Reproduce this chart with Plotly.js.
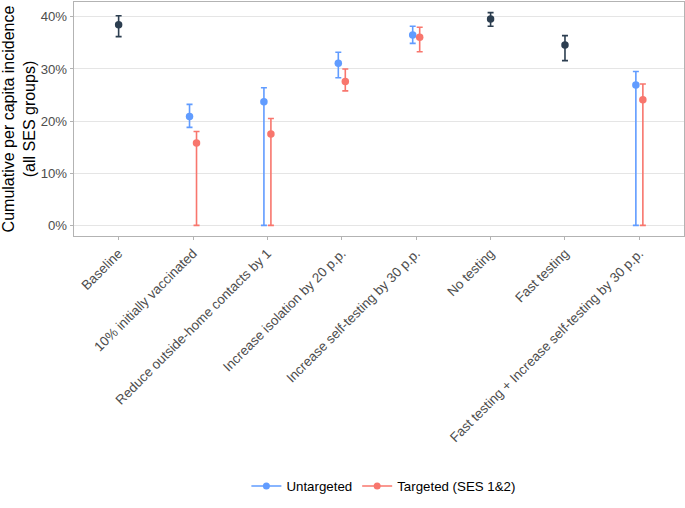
<!DOCTYPE html>
<html>
<head>
<meta charset="utf-8">
<script src="https://cdn.plot.ly/plotly-3.0.1.min.js"></script>
<style>
  html, body { margin: 0; padding: 0; background: #fff; }
  #chart { width: 685px; height: 508px; }
</style>
</head>
<body>
<div id="chart"></div>
<script>
// scenarios on the x axis
let scenarios = [
    "Baseline",
    "10% initially vaccinated",
    "Reduce outside-home contacts by 1",
    "Increase isolation by 20 p.p.",
    "Increase self-testing by 30 p.p.",
    "No testing",
    "Fast testing",
    "Fast testing + Increase self-testing by 30 p.p."
];

// single-value scenarios (no targeting)
let baseIdx = [0, 5, 6];
let baseMid = [38.5, 39.6, 34.6];
let baseLow = [36.2, 38.2, 31.6];
let baseHigh = [40.2, 40.8, 36.4];

// untargeted
let untIdx = [1, 2, 3, 4, 7];
let untMid = [20.9, 23.7, 31.1, 36.5, 26.9];
let untLow = [18.8, 0, 28.3, 34.9, 0];
let untHigh = [23.2, 26.4, 33.2, 38.2, 29.5];

// targeted (SES 1&2)
let tarIdx = [1, 2, 3, 4, 7];
let tarMid = [15.8, 17.5, 27.6, 36.1, 24.1];
let tarLow = [0, 0, 25.8, 33.3, 0];
let tarHigh = [18.0, 20.5, 30.0, 38.0, 27.1];

let dodge = 0.047;

function pointTrace(idx, mid, low, high, shift, color, name) {
    return {
        type: 'scatter',
        mode: 'markers',
        name: name,
        showlegend: false,
        x: idx.map(i => i + shift),
        y: mid,
        marker: {color: color, size: 7.5},
        error_y: {
            type: 'data',
            symmetric: false,
            array: high.map((h, k) => h - mid[k]),
            arrayminus: low.map((l, k) => mid[k] - l),
            color: color,
            thickness: 1.6,
            width: 3
        },
        hoverinfo: 'skip'
    };
}

// legend-only entries, so the key shows a line through a dot
function legendTrace(color, name) {
    return {
        type: 'scatter',
        mode: 'lines+markers',
        name: name,
        x: [null],
        y: [null],
        line: {color: color, width: 1.6},
        marker: {color: color, size: 7}
    };
}

let blue = '#619CFF';
let red = '#F8766D';
let dark = '#2C3E50';

let data = [
    pointTrace(baseIdx, baseMid, baseLow, baseHigh, 0, dark, 'All'),
    pointTrace(untIdx, untMid, untLow, untHigh, -dodge, blue, 'Untargeted'),
    pointTrace(tarIdx, tarMid, tarLow, tarHigh, dodge, red, 'Targeted (SES 1&2)'),
    legendTrace(blue, 'Untargeted'),
    legendTrace(red, 'Targeted (SES 1&2)')
];

let layout = {
    width: 685,
    height: 508,
    paper_bgcolor: '#fff',
    plot_bgcolor: '#fff',
    margin: {l: 74, r: 1, t: 2, b: 272, pad: 0},
    font: {family: '"Liberation Sans", Arial, sans-serif', color: '#4d4d4d', size: 13},
    showlegend: true,
    legend: {
        orientation: 'h',
        x: 0.508,
        xanchor: 'center',
        y: -1.07,
        yanchor: 'middle',
        font: {size: 13.3, color: '#000'},
        itemwidth: 30,
        tracegroupgap: 0
    },
    xaxis: {
        range: [-0.6, 7.6],
        tickvals: scenarios.map((s, i) => i),
        ticktext: scenarios,
        tickangle: -45,
        ticks: 'outside',
        ticklen: 3,
        tickcolor: '#b3b3b3',
        tickwidth: 1,
        tickfont: {size: 13.4, color: '#4d4d4d'},
        showgrid: false,
        zeroline: false,
        showline: true,
        mirror: true,
        linecolor: '#b3b3b3',
        linewidth: 1.3
    },
    yaxis: {
        range: [-2.04, 42.84],
        dtick: 10,
        tick0: 0,
        ticksuffix: '%',
        ticks: 'outside',
        ticklen: 3,
        tickcolor: '#b3b3b3',
        tickfont: {size: 13.2, color: '#4d4d4d'},
        showgrid: true,
        gridcolor: '#e5e5e5',
        gridwidth: 1,
        zeroline: false,
        showline: true,
        mirror: true,
        linecolor: '#b3b3b3',
        linewidth: 1.3,
        title: {
            text: 'Cumulative per capita incidence<br>(all SES groups)',
            font: {size: 16, color: '#000'},
            standoff: 4
        }
    }
};

Plotly.newPlot('chart', data, layout, {displayModeBar: false, staticPlot: true});
</script>
</body>
</html>
